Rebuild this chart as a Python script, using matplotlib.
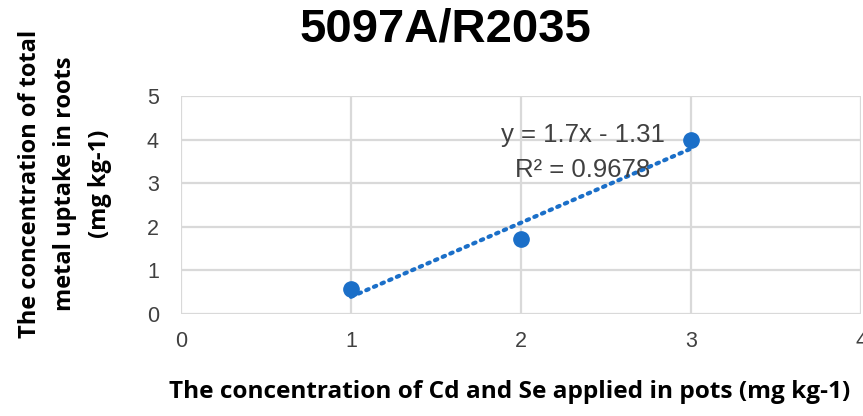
import numpy as np
import matplotlib
matplotlib.use("Agg")
import matplotlib.pyplot as plt

# data
x_vals = [1, 2, 3]
y_vals = [0.58, 1.72, 3.98]
x_ticks = [0, 1, 2, 3, 4]
y_ticks = [0, 1, 2, 3, 4, 5]
title = "5097A/R2035"
x_label = "The concentration of Cd and Se applied in pots (mg kg-1)"
y_label = "The concentration of total\nmetal uptake in roots\n(mg kg-1)"
eq_text = "y = 1.7x - 1.31"
r2_text = "R² = 0.9678"

blue = "#1b6fc8"
grid_c = "#d9d9d9"
bold_fam = ["Open Sans", "DejaVu Sans"]
tick_fam = ["Liberation Sans", "DejaVu Sans"]

fig = plt.figure(figsize=(8.63, 4.16), dpi=100)
ax = fig.add_axes([181/863, 1-314/416, (861-181)/863, (314-96)/416])

ax.set_xlim(0, 4)
ax.set_ylim(0, 5)
ax.set_xticks(x_ticks)
ax.set_yticks(y_ticks)
ax.grid(True, color=grid_c, linewidth=1.6)
ax.set_axisbelow(True)
for s in ax.spines.values():
    s.set_visible(False)
ax.tick_params(length=0, labelsize=15.5, colors="#404040")
ax.tick_params(axis="y", pad=16)
ax.tick_params(axis="x", pad=12)
for lab in ax.get_xticklabels() + ax.get_yticklabels():
    lab.set_family(tick_fam)

# trendline
coef = np.polyfit(x_vals, y_vals, 1)
xt = np.array([min(x_vals), max(x_vals)])
ax.plot(xt, np.polyval(coef, xt), linestyle=(0, (0.6, 1.4)), color=blue,
        linewidth=3, dash_capstyle="round", zorder=2)
ax.plot(x_vals, y_vals, "o", color=blue, markersize=11, zorder=3, clip_on=False)

ax.text((583-181)/680, 1-(135-96)/218, eq_text, transform=ax.transAxes,
        ha="center", va="center", fontsize=18.5, color="#404040", family=tick_fam)
ax.text((583-181)/680, 1-(170-96)/218, r2_text, transform=ax.transAxes,
        ha="center", va="center", fontsize=18.5, color="#404040", family=tick_fam)

fig.text(445/863, 1-30/416, title, ha="center", va="center", fontsize=34,
         fontweight="bold", family=["Liberation Sans", "DejaVu Sans"])
fig.text(510/863, 1-392/416, x_label, ha="center", va="center", fontsize=17.6,
         fontweight="bold", family=bold_fam)
fig.text(65/863, 1-184/416, y_label, ha="center", va="center", fontsize=17,
         fontweight="bold", family=bold_fam, rotation=90, multialignment="center",
         linespacing=1.62)

fig.savefig("out.png", dpi=100)
